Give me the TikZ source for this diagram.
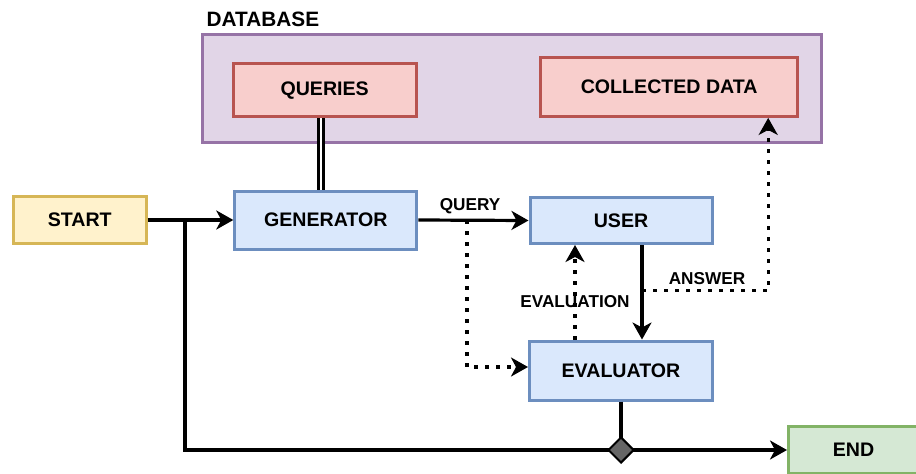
\documentclass[tikz,border=0pt]{standalone}
\usepackage{fontspec}
\setmainfont{Liberation Sans}
\usetikzlibrary{arrows.meta,shapes.geometric,calc}
\definecolor{bluefill}{HTML}{DAE8FC}
\definecolor{blueline}{HTML}{6C8EBF}
\definecolor{yellowfill}{HTML}{FFF2CC}
\definecolor{yellowline}{HTML}{D6B656}
\definecolor{redfill}{HTML}{F8CECC}
\definecolor{redline}{HTML}{B85450}
\definecolor{purplefill}{HTML}{E1D5E7}
\definecolor{purpleline}{HTML}{9673A6}
\definecolor{greenfill}{HTML}{D5E8D4}
\definecolor{greenline}{HTML}{82B366}
\definecolor{diagray}{HTML}{666666}
\begin{document}
\begin{tikzpicture}[x=1pt,y=-1pt,
  nodebox/.style={rectangle, line width=3pt, inner sep=0pt, font=\fontsize{19.6}{23}\selectfont\bfseries},
  bluebox/.style={nodebox, draw=blueline, fill=bluefill},
  yellowbox/.style={nodebox, draw=yellowline, fill=yellowfill},
  redbox/.style={nodebox, draw=redline, fill=redfill},
  purplebox/.style={nodebox, draw=purpleline, fill=purplefill},
  greenbox/.style={nodebox, draw=greenline, fill=greenfill},
  tip/.tip={Stealth[length=17pt,width=19pt,inset=5pt]},
  solidline/.style={line width=3.2pt},
  conn/.style={solidline, -tip},
  dotconn/.style={line width=3.2pt, dash pattern=on 3.6pt off 7.4pt, -tip},
  lbl/.style={font=\fontsize{17.2}{20}\selectfont\bfseries, inner sep=0pt}
]
\useasboundingbox[fill=white] (0,0) rectangle (916,474);

% database container
\node[purplebox, minimum width=619, minimum height=108] (db) at (512.2,88.7) {};
\node[font=\fontsize{20.8}{24}\selectfont\bfseries, inner sep=0pt, anchor=west] (dblabel) at (206.5,19.5) {DATABASE};
\node[redbox, minimum width=183, minimum height=53] (queries) at (324.7,90.3) {QUERIES};
\node[redbox, minimum width=257, minimum height=59] (collected) at (669.2,86.9) {COLLECTED DATA};

% process nodes
\node[yellowbox, minimum width=133, minimum height=47] (start) at (79.7,220) {START};
\node[bluebox, minimum width=182, minimum height=58] (gen) at (325.8,220) {GENERATOR};
\node[bluebox, minimum width=182, minimum height=46] (user) at (621,220.5) {USER};
\node[bluebox, minimum width=183, minimum height=59] (eval) at (621,370.5) {EVALUATOR};
\node[greenbox, minimum width=130, minimum height=47] (end) at (853.5,450) {END};

% connectors
\draw[double, line width=3pt, double distance=2.5pt] ([xshift=-3.7pt]queries.south) -- ([xshift=-4.8pt]gen.north);
\draw[conn] (start.east) -- (gen.west);
\coordinate (br) at (185,220);
\draw[conn] (br) |- (end.west);
\draw[solidline] (eval.south) -- (621,450);
\draw[conn] (gen.east) -- node[lbl, pos=0.47, yshift=14pt] (querylbl) {QUERY} (user.west);
\coordinate (q1) at (467,220);
\draw[dotconn] (q1) |- ([yshift=3.5pt]eval.west);
\draw[conn] ([xshift=21pt]user.south) -- ([xshift=21pt]eval.north);
\coordinate (a1) at (642,290.5);
\draw[dotconn] (a1) -| ([xshift=99pt]collected.south);
\node[lbl] (answerlbl) at (707,279) {ANSWER};
\draw[dotconn] ([xshift=-46pt]eval.north) -- ([xshift=-46pt]user.south);
\node[lbl] (evallbl) at (575,302) {EVALUATION};

\node[diamond, aspect=1, draw=black, line width=2pt, fill=diagray, minimum width=26pt, minimum height=26pt, inner sep=0pt] (dia) at (621,450) {};
\end{tikzpicture}
\end{document}
